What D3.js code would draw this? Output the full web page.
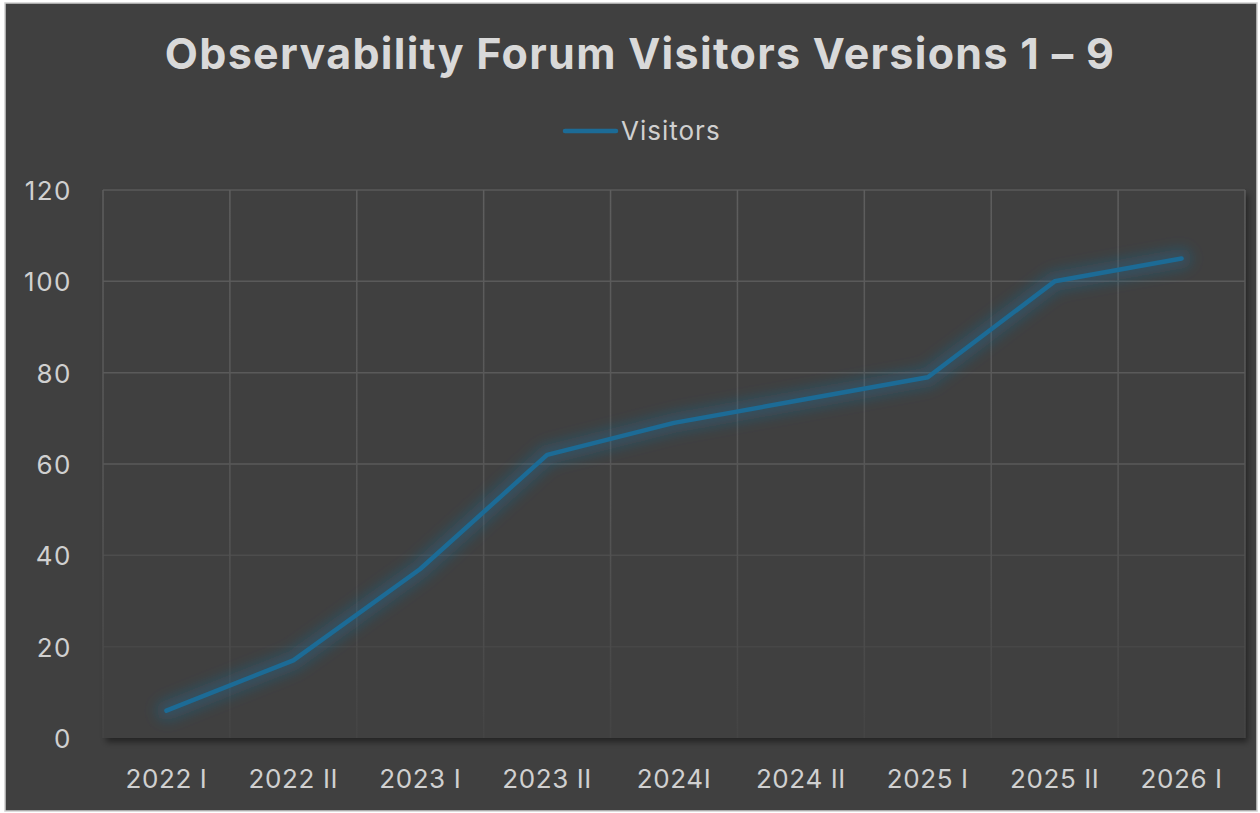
<!DOCTYPE html>
<html>
<head>
<meta charset="utf-8">
<script src="https://cdn.jsdelivr.net/npm/d3@7"></script>
<style>
  html, body { margin: 0; padding: 0; background: #fff; }
  svg { display: block; }
  text { font-family: Inter, "Noto Sans", sans-serif; }
</style>
</head>
<body>
<svg id="chart" width="1260" height="813"></svg>
<script>
// data
const categories = ['2022 I', '2022 II', '2023 I', '2023 II', '2024I', '2024 II', '2025 I', '2025 II', '2026 I'];
const visitors   = [6, 17, 37, 62, 69, 74, 79, 100, 105];
const yTicks     = [0, 20, 40, 60, 80, 100, 120];

const W = 1260, H = 813;
const plot = { left: 103, right: 1245, top: 190, bottom: 738 };

const svg = d3.select('#chart');
const defs = svg.append('defs');

// glow under the line
const glow = defs.append('filter').attr('id', 'glow')
  .attr('x', '-10%').attr('y', '-10%').attr('width', '120%').attr('height', '120%');
glow.append('feGaussianBlur').attr('stdDeviation', 7);

// soft shadow below/right of the plot area
const shadow = defs.append('filter').attr('id', 'shadow')
  .attr('x', '-5%').attr('y', '-5%').attr('width', '110%').attr('height', '110%');
shadow.append('feDropShadow').attr('dx', 3).attr('dy', 4).attr('stdDeviation', 3)
  .attr('flood-color', '#000').attr('flood-opacity', 0.45);

// gridlines fade towards the bottom
const gridGrad = defs.append('linearGradient').attr('id', 'gridFade')
  .attr('gradientUnits', 'userSpaceOnUse')
  .attr('x1', 0).attr('y1', plot.top).attr('x2', 0).attr('y2', plot.bottom);
gridGrad.append('stop').attr('offset', '0%').attr('stop-color', '#5e5e5e');
gridGrad.append('stop').attr('offset', '60%').attr('stop-color', '#555555');
gridGrad.append('stop').attr('offset', '100%').attr('stop-color', '#444444');

// chart frame
svg.append('rect')
  .attr('x', 5).attr('y', 3).attr('width', W - 8).attr('height', H - 5)
  .attr('fill', '#404040').attr('stroke', '#d0d0d0').attr('stroke-width', 1.5);

const x = d3.scaleBand().domain(categories).range([plot.left, plot.right]).padding(0);
const y = d3.scaleLinear().domain([0, 120]).range([plot.bottom, plot.top]);

// plot area
svg.append('rect')
  .attr('x', plot.left).attr('y', plot.top)
  .attr('width', plot.right - plot.left).attr('height', plot.bottom - plot.top)
  .attr('fill', '#414141').attr('filter', 'url(#shadow)');

const grid = svg.append('g').attr('stroke', 'url(#gridFade)').attr('stroke-width', 1.5);
grid.selectAll('line.h').data(yTicks.filter(d => d > 0)).join('line')
  .attr('class', 'h')
  .attr('x1', plot.left).attr('x2', plot.right)
  .attr('y1', d => y(d)).attr('y2', d => y(d))
  .attr('stroke', d => d >= 60 ? '#5a5a5a' : (d === 40 ? '#4d4d4d' : '#474747'));
const vEdges = categories.map(c => x(c)).concat([plot.right]);
grid.selectAll('line.v').data(vEdges).join('line')
  .attr('class', 'v')
  .attr('x1', d => d).attr('x2', d => d)
  .attr('y1', plot.top).attr('y2', plot.bottom);

// y axis labels
const yAxis = d3.axisLeft(y).tickValues(yTicks).tickSize(0).tickPadding(0);
svg.append('g')
  .attr('transform', `translate(${plot.left - 31},0)`)
  .call(yAxis)
  .call(g => g.select('.domain').remove())
  .call(g => g.selectAll('text')
    .attr('fill', '#d0d0d0').attr('font-size', 26).attr('dy', '0.36em')
    .attr('letter-spacing', 1.5)
    .style('font-family', 'Inter, "Noto Sans", sans-serif'));

// x axis labels
const xAxis = d3.axisBottom(x).tickSize(0).tickPadding(0);
svg.append('g')
  .attr('transform', `translate(0,${plot.bottom + 32})`)
  .call(xAxis)
  .call(g => g.select('.domain').remove())
  .call(g => g.selectAll('text')
    .attr('fill', '#d0d0d0').attr('font-size', 26).attr('dy', '0.71em')
    .attr('letter-spacing', 0.6)
    .style('font-family', 'Inter, "Noto Sans", sans-serif'));

// line
const line = d3.line()
  .x((d, i) => x(categories[i]) + x.bandwidth() / 2)
  .y(d => y(d));

svg.append('path').datum(visitors)
  .attr('d', line).attr('fill', 'none')
  .attr('stroke', '#1a6f9e').attr('stroke-opacity', 0.35)
  .attr('stroke-width', 20).attr('stroke-linejoin', 'round').attr('stroke-linecap', 'round')
  .attr('filter', 'url(#glow)');
svg.append('path').datum(visitors)
  .attr('d', line).attr('fill', 'none')
  .attr('stroke', '#1c6b96').attr('stroke-width', 4.5)
  .attr('stroke-linejoin', 'round').attr('stroke-linecap', 'round');

// title
svg.append('text')
  .attr('x', 640).attr('y', 69)
  .attr('text-anchor', 'middle')
  .attr('fill', '#d9d9d9').attr('font-size', 43).attr('font-weight', 700)
  .attr('letter-spacing', 1.3)
  .text('Observability Forum Visitors Versions 1 – 9');

// legend
svg.append('line')
  .attr('x1', 565).attr('x2', 616).attr('y1', 131).attr('y2', 131)
  .attr('stroke', '#1c6b96').attr('stroke-width', 4.5).attr('stroke-linecap', 'round');
svg.append('text')
  .attr('x', 621).attr('y', 131).attr('dy', '0.36em')
  .attr('fill', '#d0d0d0').attr('font-size', 26).attr('letter-spacing', 1)
  .text('Visitors');
</script>
</body>
</html>
